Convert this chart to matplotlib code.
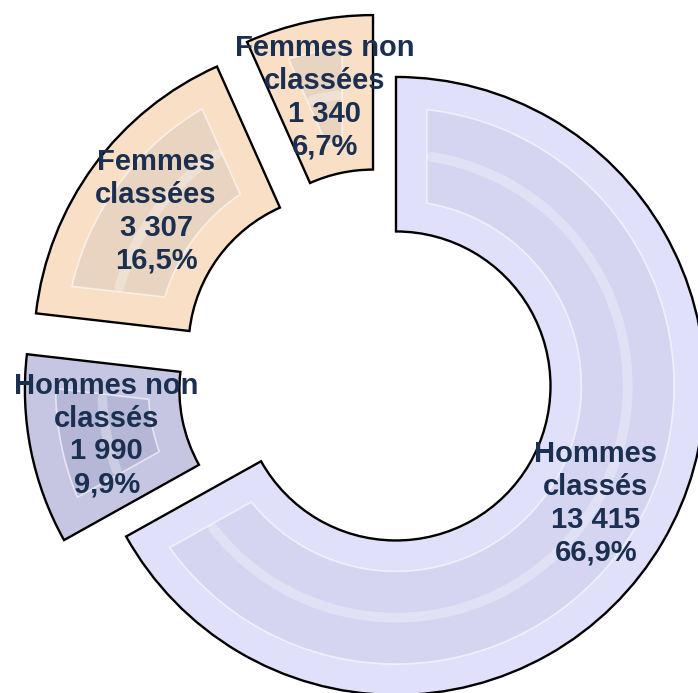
import matplotlib
matplotlib.use("Agg")
import matplotlib.pyplot as plt
import numpy as np
from matplotlib.patches import Polygon

# ---- data ----
categories = ["Hommes classés", "Hommes non classés", "Femmes classées", "Femmes non classées"]
display_names = ["Hommes\nclassés", "Hommes non\nclassés", "Femmes\nclassées", "Femmes non\nclassées"]
values = [13415, 1990, 3307, 1340]

# ---- style ----
explode = [0.042, 0.168, 0.168, 0.183]
base_colors = ["#e0e0fa", "#c6c6e3", "#f8dfc6", "#f8dfc6"]
inner_colors = ["#d5d5f1", "#b6b6d7", "#e8d4c0", "#e8d4c0"]
text_color = "#1b3050"

total = sum(values)


def fmt_thousands(v):
    return f"{v:,}".replace(",", " ")


labels = [
    f"{n}\n{fmt_thousands(v)}\n" + f"{100 * v / total:.1f}".replace(".", ",") + "%"
    for n, v in zip(display_names, values)
]

fig = plt.figure(figsize=(6.98, 6.93), dpi=100)
ax = fig.add_axes([0, 0, 1, 1])

wedges, texts = ax.pie(
    values,
    explode=explode,
    labels=labels,
    colors=base_colors,
    startangle=90,
    counterclock=False,
    radius=1,
    labeldistance=0.75,
    wedgeprops=dict(width=0.5, edgecolor="black", linewidth=1.7),
    textprops=dict(fontsize=21, fontweight="bold", color=text_color,
                   family=["Liberation Sans", "DejaVu Sans"], linespacing=1.22),
)

for t in texts:
    t.set_ha("center")
    t.set_va("center")
    t.set_multialignment("center")
    t.set_zorder(10)

# bevel: inset face polygons computed from each wedge's geometry
d = 0.1
for w, ic in zip(wedges, inner_colors):
    cx, cy = w.center
    r_out = w.r
    r_in = w.r - w.width
    t1, t2 = np.radians(w.theta1), np.radians(w.theta2)
    ro, ri = r_out - d, r_in + d
    a_o = np.arcsin(d / ro)
    a_i = np.arcsin(d / ri)
    th_o = np.linspace(t1 + a_o, t2 - a_o, 80)
    th_i = np.linspace(t2 - a_i, t1 + a_i, 80)
    pts = np.concatenate([
        np.column_stack([cx + ro * np.cos(th_o), cy + ro * np.sin(th_o)]),
        np.column_stack([cx + ri * np.cos(th_i), cy + ri * np.sin(th_i)]),
    ])
    ax.add_patch(Polygon(pts, closed=True, facecolor=ic, edgecolor=(1, 1, 1, 0.6),
                         linewidth=1.2, zorder=3, joinstyle="round"))
    # soft ridge in the middle of the inner face
    rm = (ro + ri) / 2
    a_m = np.arcsin(d / rm)
    th_m = np.linspace(t1 + a_m + 0.02, t2 - a_m - 0.02, 80)
    ax.plot(cx + rm * np.cos(th_m), cy + rm * np.sin(th_m), color="white",
            alpha=0.3, linewidth=7, zorder=4, solid_capstyle="round")

ax.set_xlim(-1.2453, 1.0136)
ax.set_ylim(-1.0149, 1.2278)
ax.set_aspect("equal")
ax.axis("off")

fig.savefig("out.png", dpi=100)
